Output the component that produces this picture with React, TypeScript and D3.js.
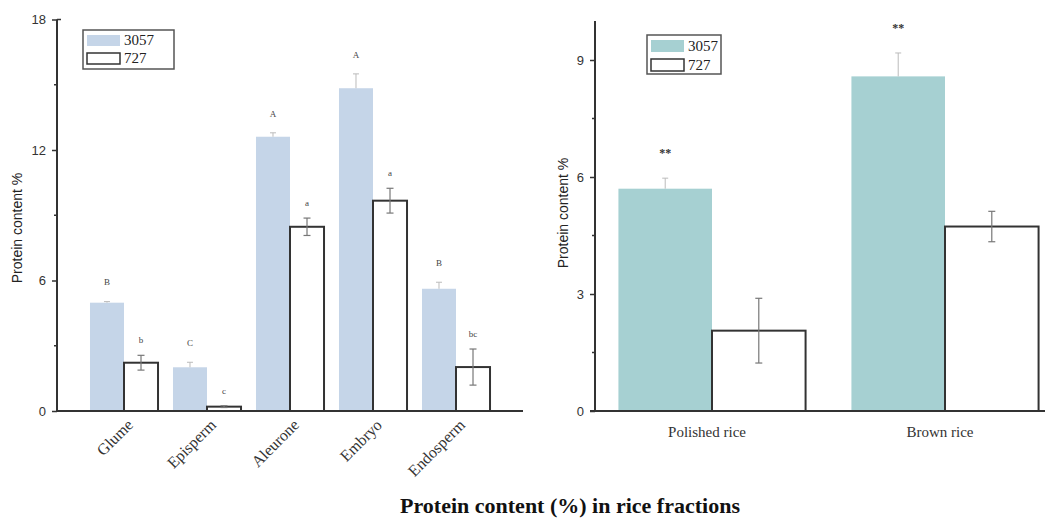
import React, { useEffect, useRef } from "react";
import * as d3 from "d3";

// left panel: protein in grain fractions
const fractions = ["Glume", "Episperm", "Aleurone", "Embryo", "Endosperm"];
const frac3057 = [4.98, 2.01, 12.61, 14.84, 5.62];
const frac3057Err = [0.05, 0.23, 0.18, 0.66, 0.3];
const frac727 = [2.22, 0.2, 8.47, 9.67, 2.02];
const frac727Err = [0.34, 0.04, 0.4, 0.57, 0.83];
const letters3057 = ["B", "C", "A", "A", "B"];
const letters727 = ["b", "c", "a", "a", "bc"];
const leftTicks = [0, 6, 12, 18];
const leftMinor = [3, 9, 15];

// right panel: polished vs brown rice
const riceTypes = ["Polished rice", "Brown rice"];
const rice3057 = [5.7, 8.58];
const rice3057Err = [0.27, 0.6];
const rice727 = [2.06, 4.73];
const rice727Err = [0.83, 0.39];
const riceSig = ["**", "**"];
const rightTicks = [0, 3, 6, 9];
const rightMinor = [1.5, 4.5, 7.5];

const varieties = ["3057", "727"];

const W = 1047;
const H = 531;

const App = () => {
  const ref = useRef<SVGSVGElement | null>(null);

  useEffect(() => {
    const svg = d3.select(ref.current);
    svg.selectAll("*").remove();

    const drawPanel = (opts: any) => {
      const {
        cats, v1, e1, v2, e2, top1, top2, fill1, y, x, axisX0, axisX1,
        ticks, minor, yLabelX, rotateLabels, legend,
      } = opts;
      const g = svg.append("g");
      const inner = d3.scaleBand().domain(varieties).range([0, x.bandwidth()]).paddingOuter(opts.subPad);

      // bars 3057
      g.selectAll(".b1").data(cats).enter().append("rect")
        .attr("x", (d: string) => x(d) + inner("3057"))
        .attr("y", (d: string, i: number) => y(v1[i]))
        .attr("width", inner.bandwidth())
        .attr("height", (d: string, i: number) => y(0) - y(v1[i]))
        .attr("fill", fill1);

      // error bars 3057 (upper half only visible)
      cats.forEach((c: string, i: number) => {
        const cx = x(c) + inner("3057") + inner.bandwidth() / 2;
        g.append("line").attr("x1", cx).attr("x2", cx)
          .attr("y1", y(v1[i])).attr("y2", y(v1[i] + e1[i]))
          .attr("stroke", "#bbb").attr("stroke-width", 1);
        g.append("line").attr("x1", cx - 3).attr("x2", cx + 3)
          .attr("y1", y(v1[i] + e1[i])).attr("y2", y(v1[i] + e1[i]))
          .attr("stroke", "#bbb").attr("stroke-width", 1);
        g.append("text").attr("x", cx).attr("y", y(top1[i]))
          .attr("text-anchor", "middle")
          .attr("font-family", "'Liberation Serif', serif")
          .attr("font-size", opts.markSize).attr("font-weight", opts.markWeight)
          .attr("fill", opts.markColor)
          .text(opts.marks1[i]);
      });

      // bars 727
      g.selectAll(".b2").data(cats).enter().append("rect")
        .attr("x", (d: string) => x(d) + inner("727"))
        .attr("y", (d: string, i: number) => y(v2[i]))
        .attr("width", inner.bandwidth())
        .attr("height", (d: string, i: number) => y(0) - y(v2[i]))
        .attr("fill", "#fff")
        .attr("stroke", "#333")
        .attr("stroke-width", 2);

      cats.forEach((c: string, i: number) => {
        const cx = x(c) + inner("727") + inner.bandwidth() / 2;
        const ec = "#777";
        g.append("line").attr("x1", cx).attr("x2", cx)
          .attr("y1", y(v2[i] - e2[i])).attr("y2", y(v2[i] + e2[i]))
          .attr("stroke", ec).attr("stroke-width", 1.2);
        [v2[i] - e2[i], v2[i] + e2[i]].forEach((v) => {
          g.append("line").attr("x1", cx - 3.5).attr("x2", cx + 3.5)
            .attr("y1", y(v)).attr("y2", y(v))
            .attr("stroke", ec).attr("stroke-width", 1.2);
        });
        if (opts.marks2) {
          g.append("text").attr("x", cx).attr("y", y(top2[i]))
            .attr("text-anchor", "middle")
            .attr("font-family", "'Liberation Serif', serif")
            .attr("font-size", opts.markSize).attr("fill", opts.markColor)
            .text(opts.marks2[i]);
        }
      });

      // x axis line
      g.append("line").attr("x1", axisX0).attr("x2", axisX1)
        .attr("y1", y(0)).attr("y2", y(0))
        .attr("stroke", "#333").attr("stroke-width", 2);

      // y axis
      const yAxis = g.append("g").attr("transform", `translate(${x.range()[0] - opts.yAxisGap},0)`)
        .call(d3.axisLeft(y).tickValues(ticks).tickSize(5).tickPadding(6));
      yAxis.select(".domain").attr("stroke", "#333").attr("stroke-width", 2)
        .attr("d", `M0,${y(y.domain()[1])}V${y(0)}`);
      yAxis.selectAll(".tick line").attr("stroke", "#333").attr("stroke-width", 1.5);
      yAxis.selectAll("text")
        .attr("font-family", "'Liberation Sans', Arial, sans-serif")
        .attr("font-size", 13).attr("fill", "#333");
      minor.forEach((m: number) => {
        yAxis.append("line").attr("x1", -3).attr("x2", 0)
          .attr("y1", y(m)).attr("y2", y(m))
          .attr("stroke", "#333").attr("stroke-width", 1.5);
      });
      if (opts.topTick) {
        yAxis.append("line").attr("x1", 0).attr("x2", 4)
          .attr("y1", y(y.domain()[1])).attr("y2", y(y.domain()[1]))
          .attr("stroke", "#333").attr("stroke-width", 1.5);
      }

      g.append("text")
        .attr("transform", `translate(${yLabelX},${opts.yLabelY}) rotate(-90)`)
        .attr("text-anchor", "middle")
        .attr("font-family", "'Liberation Sans', Arial, sans-serif")
        .attr("font-size", 14).attr("fill", "#222")
        .text("Protein content %");

      // category labels
      cats.forEach((c: string) => {
        const cx = x(c) + x.bandwidth() / 2;
        if (rotateLabels) {
          g.append("text")
            .attr("transform", `translate(${cx + 10},${y(0) + 15}) rotate(-45)`)
            .attr("text-anchor", "end")
            .attr("font-family", "'Liberation Serif', serif")
            .attr("font-size", 16).attr("fill", "#333")
            .text(c);
        } else {
          g.append("text").attr("x", cx - 5).attr("y", y(0) + 26)
            .attr("text-anchor", "middle")
            .attr("font-family", "'Liberation Serif', serif")
            .attr("font-size", 15).attr("fill", "#333")
            .text(c);
        }
      });

      // legend
      const lg = g.append("g").attr("transform", `translate(${legend.x},${legend.y})`);
      lg.append("rect").attr("width", legend.w).attr("height", legend.h)
        .attr("fill", "#fff").attr("stroke", "#555").attr("stroke-width", 1.5);
      varieties.forEach((v, i) => {
        const sy = 5 + i * legend.row;
        lg.append("rect").attr("x", 4).attr("y", sy)
          .attr("width", 33).attr("height", legend.row - 7)
          .attr("fill", i === 0 ? fill1 : "#fff")
          .attr("stroke", i === 0 ? "none" : "#333").attr("stroke-width", 1.5);
        lg.append("text").attr("x", 41).attr("y", sy + legend.row - 8)
          .attr("font-family", "'Liberation Serif', serif")
          .attr("font-size", 15).attr("fill", "#222")
          .text(v);
      });
    };

    // left panel
    const yL = d3.scaleLinear().domain([0, 18]).range([411, 19.5]);
    const xL = d3.scaleBand().domain(fractions).range([82.5, 497.5]);
    drawPanel({
      cats: fractions, v1: frac3057, e1: frac3057Err, v2: frac727, e2: frac727Err,
      top1: frac3057.map((v, i) => v + frac3057Err[i] + 0.75),
      top2: frac727.map((v, i) => v + frac727Err[i] + 0.55),
      marks1: letters3057, marks2: letters727,
      markSize: 9, markWeight: "normal", markColor: "#444",
      fill1: "#c5d5e8", y: yL, x: xL, subPad: 0.22,
      axisX0: 56, axisX1: 523, ticks: leftTicks, minor: leftMinor,
      yAxisGap: 25.5, topTick: true,
      yLabelX: 22, yLabelY: 228, rotateLabels: true,
      legend: { x: 83, y: 30, w: 91, h: 39, row: 18 },
    });

    // right panel
    const yR = d3.scaleLinear().domain([0, 10]).range([411, 21]);
    const xR = d3.scaleBand().domain(riceTypes).range([595.5, 1061.5]);
    drawPanel({
      cats: riceTypes, v1: rice3057, e1: rice3057Err, v2: rice727, e2: rice727Err,
      top1: rice3057.map((v, i) => v + rice3057Err[i] + 0.55),
      top2: null, marks1: riceSig, marks2: null,
      markSize: 12, markWeight: "bold", markColor: "#333",
      fill1: "#a6d0d2", y: yR, x: xR, subPad: 0.245,
      axisX0: 590, axisX1: 1045, ticks: rightTicks, minor: rightMinor,
      yAxisGap: 0.5, topTick: false,
      yLabelX: 568, yLabelY: 213, rotateLabels: false,
      legend: { x: 647, y: 35, w: 74, h: 39, row: 19 },
    });

    svg.append("text")
      .attr("x", 570).attr("y", 513)
      .attr("text-anchor", "middle")
      .attr("font-family", "'Liberation Serif', 'Times New Roman', serif")
      .attr("font-weight", "bold").attr("font-size", 22).attr("fill", "#111")
      .text("Protein content (%) in rice fractions");
  }, []);

  return (
    <div style={{ position: "absolute", left: 0, top: 0 }}>
      <svg ref={ref} width={W} height={H} style={{ display: "block", background: "#fff" }} />
    </div>
  );
};

export default App;
